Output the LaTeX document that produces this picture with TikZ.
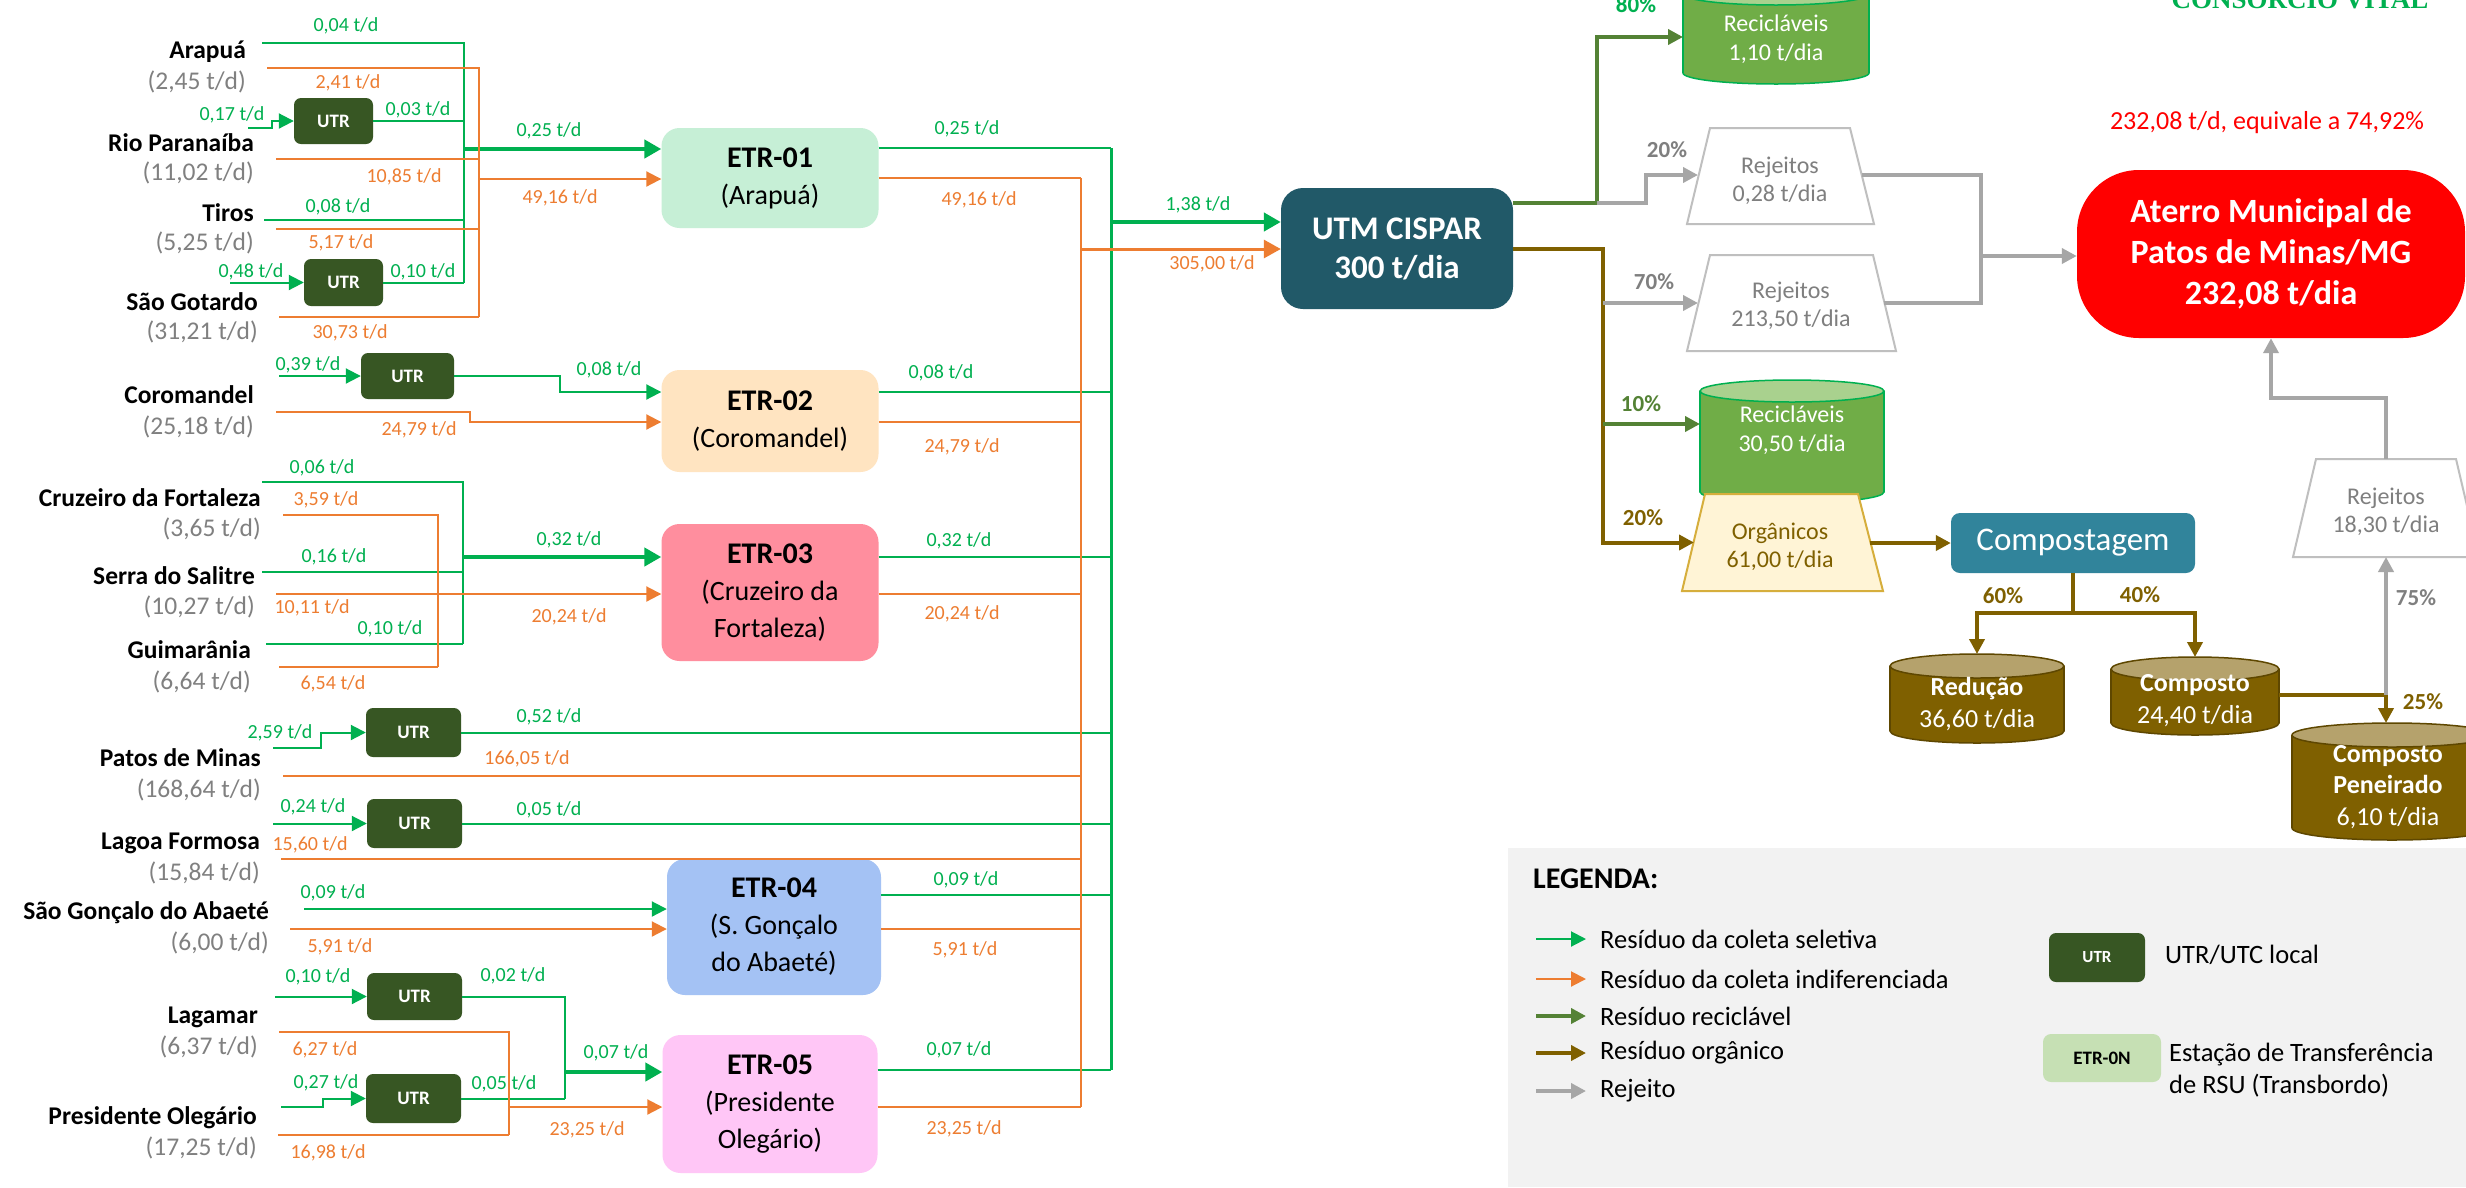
\documentclass[tikz,border=0pt]{standalone}
\usepackage{fontspec}
\setmainfont{Carlito}
\newfontfamily\serifbold{Liberation Serif}
\usetikzlibrary{arrows.meta,calc}
\definecolor{selg}{HTML}{00B050}
\definecolor{indo}{HTML}{ED7D31}
\definecolor{recg}{HTML}{548235}
\definecolor{orgb}{HTML}{7F6000}
\definecolor{rejg}{HTML}{A6A6A6}
\definecolor{utrc}{HTML}{375623}
\definecolor{utmc}{HTML}{215968}
\definecolor{compc}{HTML}{31849B}
\definecolor{amtc}{HTML}{808080}
\definecolor{etra}{HTML}{C6EFD6}
\definecolor{etrb}{HTML}{FFE4C1}
\definecolor{etrc}{HTML}{FF8E9E}
\definecolor{etrd}{HTML}{A4C2F4}
\definecolor{etre}{HTML}{FFC6F6}
\definecolor{legbg}{HTML}{F2F2F2}
\definecolor{legetr}{HTML}{C6E0B4}
\definecolor{cylg}{HTML}{70AD47}
\definecolor{cylgt}{HTML}{A9D18E}
\definecolor{cylbt}{HTML}{B5A26C}
\definecolor{cylbd}{HTML}{5E4700}
\definecolor{orgfill}{HTML}{FFF4D6}
\definecolor{orgdraw}{HTML}{D6AE3C}
\definecolor{trapd}{HTML}{BFBFBF}
\definecolor{rejtxt}{HTML}{7F7F7F}
\newcommand{\drawcyl}[8]{%
  \filldraw[fill=#6,draw=#8,line width=1.5pt] (#1,#4) ellipse [x radius=#2pt, y radius=#5pt];
  \fill[#6] ({#1-#2},#3) rectangle ({#1+#2},#4);
  \draw[#8,line width=1.5pt] ({#1-#2},#3) -- ({#1-#2},#4) ({#1+#2},#3) -- ({#1+#2},#4);
  \filldraw[fill=#7,draw=#8,line width=1.5pt] (#1,#3) ellipse [x radius=#2pt, y radius=#5pt];}
\begin{document}
\begin{tikzpicture}[x=1pt,y=-1pt,
  tip/.style={-{Triangle[length=15pt,width=15pt]}},
  btip/.style={-{Triangle[length=17pt,width=18pt]}},
  sel/.style={draw=selg,line width=2pt},
  selk/.style={draw=selg,line width=4.5pt},
  selbus/.style={draw=selg,line width=3pt},
  ind/.style={draw=indo,line width=2pt},
  indk/.style={draw=indo,line width=3pt},
  indbus/.style={draw=indo,line width=2.5pt},
  rec/.style={draw=recg,line width=4pt},
  org/.style={draw=orgb,line width=4pt},
  rej/.style={draw=rejg,line width=4pt},
  lg/.style={text=selg,font=\fontsize{20}{24}\selectfont,inner sep=0pt},
  lo/.style={text=indo,font=\fontsize{20}{24}\selectfont,inner sep=0pt},
  city/.style={anchor=east,inner sep=0pt,font=\bfseries\fontsize{25.5}{30}\selectfont},
  amt/.style={anchor=east,inner sep=0pt,text=amtc,font=\fontsize{25.5}{30}\selectfont},
  utrbox/.style={fill=utrc,rounded corners=7pt,text=white,font=\bfseries\fontsize{19}{22}\selectfont,inner sep=0pt},
  etrbox/.style={rounded corners=18pt,align=center,inner sep=0pt,minimum width=217pt,font=\fontsize{28}{37}\selectfont},
  pct/.style={font=\bfseries\fontsize{23}{26}\selectfont,inner sep=0pt},
  leg/.style={anchor=west,inner sep=0pt,font=\fontsize{26.5}{32}\selectfont},
  trap/.style={draw=trapd,line width=2pt,fill=white},
  traptxt/.style={align=center,inner sep=0pt,text=rejtxt,font=\fontsize{24}{28}\selectfont},
  cyltxt/.style={align=center,inner sep=0pt,text=white,font=\fontsize{24}{29}\selectfont},
  bcyltxt/.style={align=center,inner sep=0pt,text=white,font=\fontsize{26}{32}\selectfont},
]
\useasboundingbox (0,0) rectangle (2466,1187);
\fill[white] (0,0) rectangle (2466,1187);

% ---------- left: municipalities ----------
\node[city] (nAr) at (246,52) {Arapuá};
\node[amt] (aAr) at (246,82) {(2,45 t/d)};
\node[city] (nRP) at (254,143) {Rio Paranaíba};
\node[amt] (aRP) at (254,173) {(11,02 t/d)};
\node[city] (nTi) at (254,213) {Tiros};
\node[amt] (aTi) at (254,243) {(5,25 t/d)};
\node[city] (nSG) at (258,302) {São Gotardo};
\node[amt] (aSG) at (258,332) {(31,21 t/d)};
\node[city] (nCo) at (254,395) {Coromandel};
\node[amt] (aCo) at (254,427) {(25,18 t/d)};
\node[city] (nCF) at (261,498) {Cruzeiro da Fortaleza};
\node[amt] (aCF) at (261,529) {(3,65 t/d)};
\node[city] (nSS) at (255,576) {Serra do Salitre};
\node[amt] (aSS) at (255,607) {(10,27 t/d)};
\node[city] (nGu) at (251,650) {Guimarânia};
\node[amt] (aGu) at (251,682) {(6,64 t/d)};
\node[city] (nPM) at (261,758) {Patos de Minas};
\node[amt] (aPM) at (261,790) {(168,64 t/d)};
\node[city] (nLF) at (260,843) {Lagoa Formosa};
\node[amt] (aLF) at (260,873) {(15,84 t/d)};
\node[city] (nGA) at (269,913) {São Gonçalo do Abaeté};
\node[amt] (aGA) at (269,943) {(6,00 t/d)};
\node[city] (nLa) at (258,1017) {Lagamar};
\node[amt] (aLa) at (258,1047) {(6,37 t/d)};
\node[city] (nPO) at (257,1118) {Presidente Olegário};
\node[amt] (aPO) at (257,1148) {(17,25 t/d)};

% ---------- UTR boxes ----------
\node[utrbox,minimum width=79pt,minimum height=46pt] (u1) at (333.5,121) {UTR};
\node[utrbox,minimum width=79pt,minimum height=47pt] (u2) at (343.5,282.5) {UTR};
\node[utrbox,minimum width=93pt,minimum height=46pt] (u3) at (407.5,376) {UTR};
\node[utrbox,minimum width=95pt,minimum height=49pt] (u4) at (413.5,732.5) {UTR};
\node[utrbox,minimum width=95pt,minimum height=49pt] (u5) at (414.5,823.5) {UTR};
\node[utrbox,minimum width=95pt,minimum height=47pt] (u6) at (414.5,996.5) {UTR};
\node[utrbox,minimum width=95pt,minimum height=49pt] (u7) at (413.5,1098.5) {UTR};

% ---------- ETR boxes ----------
\node[etrbox,fill=etra,minimum height=100pt] (e1) at (770,178) {{\bfseries\fontsize{30}{37}\selectfont ETR-01}\\(Arapuá)};
\node[etrbox,fill=etrb,minimum height=102pt] (e2) at (770,421) {{\bfseries\fontsize{30}{37}\selectfont ETR-02}\\(Coromandel)};
\node[etrbox,fill=etrc,minimum height=137pt] (e3) at (770,592.5) {{\bfseries\fontsize{30}{36}\selectfont ETR-03}\\(Cruzeiro da\\Fortaleza)};
\node[etrbox,fill=etrd,minimum height=136pt,minimum width=214pt] (e4) at (774,927) {{\bfseries\fontsize{30}{35}\selectfont ETR-04}\\(S. Gonçalo\\do Abaeté)};
\node[etrbox,fill=etre,minimum height=138pt,minimum width=215pt] (e5) at (770,1104) {{\bfseries\fontsize{30}{36}\selectfont ETR-05}\\(Presidente\\Olegário)};

% ---------- UTM ----------
\node[fill=utmc,rounded corners=22pt,minimum width=232pt,minimum height=121pt,inner sep=0pt,align=center,text=white,font=\bfseries\fontsize{33}{39}\selectfont] (utm) at (1397,248.5) {UTM CISPAR\\300 t/dia};

% ---------- group 1 (ETR-01) ----------
\coordinate (arG) at (262,43);
\coordinate (gb1) at (464,283);
\coordinate (gj1) at (464,149);
\coordinate (tiG) at (264,220);
\coordinate (rpG) at (248,128);
\coordinate (sgG) at (230,282.5);
\draw[sel] (arG) -| (gb1);
\draw[sel] (u1.east) -- (u1.east -| gb1);
\draw[sel] (tiG) -- (tiG -| gb1);
\draw[sel] (u2.east) -- (u2.east -| gb1);
\draw[sel,tip] (rpG) -- ++(24,0) |- (u1.west);
\draw[sel,tip] (sgG) -- (u2.west);
\draw[selk,btip] (gj1) -- (gj1 -| e1.west);
\coordinate (arO) at (267,68);
\coordinate (ob1) at (479,317);
\coordinate (oj1) at (479,179);
\coordinate (rpO) at (276,159);
\coordinate (tiO) at (276,229);
\coordinate (sgO) at (279,317);
\draw[ind] (arO) -| (ob1);
\draw[ind] (rpO) -- (rpO -| ob1);
\draw[ind] (tiO) -- (tiO -| ob1);
\draw[ind] (sgO) -- (ob1);
\draw[ind,tip] (oj1) -- (oj1 -| e1.west);

% ---------- group 2 (ETR-02) ----------
\coordinate (coG) at (279,376);
\coordinate (coB) at (560,392);
\coordinate (coO) at (276,412);
\coordinate (coOB) at (470,422);
\draw[sel,tip] (coG) -- (u3.west);
\draw[sel,tip] (u3.east) -| (coB) -- (coB -| e2.west);
\draw[ind,tip] (coO) -| (coOB) -- (coOB -| e2.west);

% ---------- group 3 (ETR-03) ----------
\coordinate (cfG) at (262,482);
\coordinate (gb3) at (463,644);
\coordinate (gj3) at (463,557);
\coordinate (ssG) at (262,572);
\coordinate (guG) at (266,644);
\draw[sel] (cfG) -| (gb3);
\draw[sel] (ssG) -- (ssG -| gb3);
\draw[sel] (guG) -- (gb3);
\draw[selk,btip] (gj3) -- (gj3 -| e3.west);
\coordinate (cfO) at (283,515);
\coordinate (ob3) at (438,667);
\coordinate (guO) at (279,667);
\coordinate (ssO) at (276,594);
\draw[ind] (cfO) -| (ob3);
\draw[ind] (guO) -- (ob3);
\draw[ind,tip] (ssO) -- (ssO -| e3.west);

% ---------- main buses ----------
\coordinate (gm1) at (1111,148);
\coordinate (gm2) at (1111,392);
\coordinate (gm3) at (1111,557);
\coordinate (gm4) at (1111,895);
\coordinate (gm5) at (1111,1070);
\coordinate (gmA) at (1111,222);
\coordinate (om1) at (1081,178);
\coordinate (om2) at (1081,422);
\coordinate (om3) at (1081,594);
\coordinate (om4) at (1081,929);
\coordinate (om5) at (1081,1107);
\coordinate (omA) at (1081,249);

% Patos de Minas / Lagoa Formosa
\coordinate (pmG) at (273,748);
\coordinate (lfG) at (273,823.5);
\coordinate (pmO) at (283,776);
\coordinate (lfO) at (281,859);
\draw[sel,tip] (pmG) -- ++(48,0) |- (u4.west);
\draw[sel,tip] (lfG) -- (u5.west);
\draw[sel] (u4.east) -- (u4.east -| gm1);
\draw[sel] (u5.east) -- (u5.east -| gm1);
\draw[ind] (pmO) -- (pmO -| om1);
\draw[ind] (lfO) -- (lfO -| om1);

% Sao Goncalo do Abaete
\coordinate (gaG) at (304,909);
\coordinate (gaO) at (290,929);
\draw[sel,tip] (gaG) -- (gaG -| e4.west);
\draw[ind,tip] (gaO) -- (gaO -| e4.west);

% Lagamar / Presidente Olegario
\coordinate (laG) at (275,996.5);
\coordinate (gb5) at (565,1098.5);
\coordinate (gj5) at (565,1072);
\coordinate (poG) at (281,1107);
\draw[sel,tip] (laG) -- (u6.west);
\draw[sel] (u6.east) -| (gb5);
\draw[sel] (u7.east) -- (gb5);
\draw[sel,tip] (poG) -- ++(42,0) |- (u7.west);
\draw[selk,btip] (gj5) -- (gj5 -| e5.west);
\coordinate (laO) at (279,1032);
\coordinate (ob5) at (509,1135);
\coordinate (oj5) at (509,1107);
\coordinate (poO) at (278,1135);
\draw[ind] (laO) -| (ob5);
\draw[ind] (poO) -- (ob5);
\draw[ind,tip] (oj5) -- (oj5 -| e5.west);

% ETR outputs
\draw[sel] (gm1 -| e1.east) -- (gm1);
\draw[sel] (gm2 -| e2.east) -- (gm2);
\draw[sel] (gm3 -| e3.east) -- (gm3);
\draw[sel] (gm4 -| e4.east) -- (gm4);
\draw[sel] (gm5 -| e5.east) -- (gm5);
\draw[ind] (om1 -| e1.east) -- (om1);
\draw[ind] (om2 -| e2.east) -- (om2);
\draw[ind] (om3 -| e3.east) -- (om3);
\draw[ind] (om4 -| e4.east) -- (om4);
\draw[ind] (om5 -| e5.east) -- (om5);
\draw[indbus] (om1) -- (om5);
\draw[selbus] (gm1) -- (gm5);
\draw[selk,btip] (gmA) -- (gmA -| utm.west);
\draw[indk,btip] (omA) -- (omA -| utm.west);

% ---------- flow labels (left) ----------
\node[lg] (l01) at (346,26) {0,04 t/d};
\node[lo] (l02) at (348,83) {2,41 t/d};
\node[lg] (l03) at (232,115) {0,17 t/d};
\node[lg] (l04) at (418,110) {0,03 t/d};
\node[lo] (l05) at (404,177) {10,85 t/d};
\node[lg] (l06) at (549,131) {0,25 t/d};
\node[lo] (l07) at (560,198) {49,16 t/d};
\node[lg] (l08) at (338,207) {0,08 t/d};
\node[lo] (l09) at (341,243) {5,17 t/d};
\node[lg] (l10) at (251,272) {0,48 t/d};
\node[lg] (l11) at (423,272) {0,10 t/d};
\node[lo] (l12) at (350,333) {30,73 t/d};
\node[lg] (l13) at (308,365) {0,39 t/d};
\node[lg] (l14) at (609,370) {0,08 t/d};
\node[lo] (l15) at (419,430) {24,79 t/d};
\node[lg] (l16) at (322,468) {0,06 t/d};
\node[lo] (l17) at (326,500) {3,59 t/d};
\node[lg] (l18) at (334,557) {0,16 t/d};
\node[lg] (l19) at (569,540) {0,32 t/d};
\node[lo] (l20) at (312,608) {10,11 t/d};
\node[lo] (l21) at (569,617) {20,24 t/d};
\node[lg] (l22) at (390,629) {0,10 t/d};
\node[lo] (l23) at (333,684) {6,54 t/d};
\node[lg] (l24) at (280,733) {2,59 t/d};
\node[lg] (l25) at (549,717) {0,52 t/d};
\node[lo] (l26) at (527,759) {166,05 t/d};
\node[lg] (l27) at (313,807) {0,24 t/d};
\node[lg] (l28) at (549,810) {0,05 t/d};
\node[lo] (l29) at (310,845) {15,60 t/d};
\node[lg] (l30) at (333,893) {0,09 t/d};
\node[lo] (l31) at (340,947) {5,91 t/d};
\node[lg] (l32) at (318,977) {0,10 t/d};
\node[lg] (l33) at (513,976) {0,02 t/d};
\node[lo] (l34) at (325,1050) {6,27 t/d};
\node[lg] (l35) at (616,1053) {0,07 t/d};
\node[lg] (l36) at (326,1083) {0,27 t/d};
\node[lg] (l37) at (504,1084) {0,05 t/d};
\node[lo] (l38) at (587,1130) {23,25 t/d};
\node[lo] (l39) at (328,1153) {16,98 t/d};
% right of ETRs
\node[lg] (r01) at (967,129) {0,25 t/d};
\node[lo] (r02) at (979,200) {49,16 t/d};
\node[lg] (r03) at (941,373) {0,08 t/d};
\node[lo] (r04) at (962,447) {24,79 t/d};
\node[lg] (r05) at (959,541) {0,32 t/d};
\node[lo] (r06) at (962,614) {20,24 t/d};
\node[lg] (r07) at (966,880) {0,09 t/d};
\node[lo] (r08) at (965,950) {5,91 t/d};
\node[lg] (r09) at (959,1050) {0,07 t/d};
\node[lo] (r10) at (964,1129) {23,25 t/d};
\node[lg] (r11) at (1198,205) {1,38 t/d};
\node[lo] (r12) at (1212,264) {305,00 t/d};

% ---------- right side ----------
\node[anchor=base,inner sep=0pt,text=selg,font=\serifbold\bfseries\fontsize{27}{30}\selectfont] (cv) at (2300,8) {CONSÓRCIO VITAL};
\node[inner sep=0pt,text=red,font=\fontsize{26}{30}\selectfont] (note) at (2267,123) {232,08 t/d, equivale a 74,92\%};
\node[fill=red,rounded corners=62pt,minimum width=388pt,minimum height=168pt,inner sep=0pt,align=center,text=white,font=\bfseries\fontsize{34}{41}\selectfont] (att) at (2271,254) {Aterro Municipal de\\Patos de Minas/MG\\232,08 t/dia};

% cylinders
\drawcyl{1776}{93}{-6}{73}{11}{cylg}{cylgt}{selg}
\node[cyltxt] (cy1) at (1776,39) {Recicláveis\\1,10 t/dia};
\drawcyl{1792}{92}{391}{492}{11}{cylg}{cylgt}{selg}
\node[cyltxt] (cy2) at (1792,430) {Recicláveis\\30,50 t/dia};
\drawcyl{1977}{87}{666}{731}{12}{orgb}{cylbt}{cylbd}
\node[bcyltxt] (cy3) at (1977,704) {\textbf{Redução}\\36,60 t/dia};
\drawcyl{2195}{84}{669}{723}{12}{orgb}{cylbt}{cylbd}
\node[bcyltxt] (cy4) at (2195,701) {\textbf{Composto}\\24,40 t/dia};
\drawcyl{2392}{100}{735}{828}{12}{orgb}{cylbt}{cylbd}
\node[bcyltxt,font=\fontsize{26}{31.5}\selectfont] (cy5) at (2388,787) {\textbf{Composto}\\\textbf{Peneirado}\\6,10 t/dia};

% trapezoids
\draw[trap] (1687,224) -- (1710,128) -- (1850,128) -- (1874,224) -- cycle;
\node[traptxt] (tr1) at (1780,180.5) {Rejeitos\\0,28 t/dia};
\draw[trap] (1687,351) -- (1710,255) -- (1873,255) -- (1896,351) -- cycle;
\node[traptxt] (tr2) at (1791,306) {Rejeitos\\213,50 t/dia};
\draw[draw=orgdraw,line width=2pt,fill=orgfill] (1682,591) -- (1705,494) -- (1858,494) -- (1883,591) -- cycle;
\node[traptxt,text=orgb] (tr3) at (1780,546.5) {Orgânicos\\61,00 t/dia};
\draw[trap] (2293,557) -- (2316,459) -- (2456,459) -- (2479,557) -- cycle;
\node[traptxt] (tr4) at (2386,511.5) {Rejeitos\\18,30 t/dia};

% compostagem
\node[fill=compc,rounded corners=9pt,minimum width=244pt,minimum height=60pt,inner sep=0pt,text=white,font=\fontsize{33}{38}\selectfont] (comp) at (2073,543) {Compostagem};

% connectors right
\coordinate (rgT) at (1597,203);
\coordinate (cy1w) at (1683,37);
\coordinate (rgG) at (1646,203);
\coordinate (tr1w) at (1698,175);
\coordinate (obT) at (1603,249);
\coordinate (orgw) at (1694,542.5);
\coordinate (ob70) at (1603,303);
\coordinate (tr2w) at (1698,303);
\coordinate (ob10) at (1603,424);
\coordinate (cy2w) at (1700,424);
\coordinate (tr1e) at (1862,175);
\coordinate (tr2e) at (1884,303);
\coordinate (gbb) at (1981,303);
\coordinate (gbm) at (1981,256);
\coordinate (orge) at (1870,543);
\coordinate (spl) at (2073,613);
\coordinate (redT) at (1977,654);
\coordinate (cmpT) at (2195,657);
\coordinate (cmpE) at (2279,695);
\coordinate (cpT) at (2386,723);
\coordinate (cpS) at (2386,695);
\coordinate (tr4s) at (2386,557);
\coordinate (tr4n) at (2386,459);
\coordinate (gAtt) at (2271,398);

\draw[rec,tip] (utm.east |- rgT) -- (rgT) |- (cy1w);
\draw[rej,tip] (rgT) -- (rgG) |- (tr1w);
\draw[org,tip] (utm.east |- obT) -- (obT) |- (orgw);
\draw[rej,tip] (ob70) -- (tr2w);
\draw[rec,tip] (ob10) -- (cy2w);
\draw[rej] (tr1e) -| (gbb) -- (tr2e);
\draw[rej,tip] (gbm) -- (gbm -| att.west);
\draw[org,tip] (orge) -- (comp.west);
\draw[org] (comp.south) -- (spl);
\draw[org,tip] (spl) -| (redT);
\draw[org,tip] (spl) -| (cmpT);
\draw[org,tip] (cmpE) -| (cpT);
\draw[rej,tip] (cpS) -- (tr4s);
\draw[rej,tip] (tr4n) |- (gAtt) -- (att.south);

% percentages
\node[pct,text=selg] (p80) at (1636,5) {80\%};
\node[pct,text=rejtxt] (p20a) at (1667,150) {20\%};
\node[pct,text=rejtxt] (p70) at (1654,282) {70\%};
\node[pct,text=recg] (p10) at (1641,404) {10\%};
\node[pct,text=orgb] (p20b) at (1643,518) {20\%};
\node[pct,text=orgb] (p60) at (2003,596) {60\%};
\node[pct,text=orgb] (p40) at (2140,595) {40\%};
\node[pct,text=rejtxt] (p75) at (2416,598) {75\%};
\node[pct,text=orgb] (p25) at (2423,702) {25\%};

% ---------- legend ----------
\fill[legbg] (1508,848) rectangle (2466,1187);
\node[anchor=west,inner sep=0pt,font=\bfseries\fontsize{30}{34}\selectfont] (legT) at (1533,879) {LEGENDA:};
\coordinate (la1) at (1536,939); \coordinate (lb1) at (1586,939);
\coordinate (la2) at (1536,979); \coordinate (lb2) at (1586,979);
\coordinate (la3) at (1536,1016); \coordinate (lb3) at (1586,1016);
\coordinate (la4) at (1536,1053); \coordinate (lb4) at (1586,1053);
\coordinate (la5) at (1536,1091); \coordinate (lb5) at (1586,1091);
\draw[sel,tip] (la1) -- (lb1);
\draw[ind,tip] (la2) -- (lb2);
\draw[rec,tip] (la3) -- (lb3);
\draw[org,tip] (la4) -- (lb4);
\draw[rej,tip] (la5) -- (lb5);
\node[leg] (lt1) at (1600,939) {Resíduo da coleta seletiva};
\node[leg] (lt2) at (1600,979) {Resíduo da coleta indiferenciada};
\node[leg] (lt3) at (1600,1016) {Resíduo reciclável};
\node[leg] (lt4) at (1600,1053) {Resíduo orgânico};
\node[leg] (lt5) at (1600,1091) {Rejeito};
\node[utrbox,minimum width=96pt,minimum height=49pt,font=\bfseries\fontsize{17}{20}\selectfont] (lu) at (2097,957.5) {UTR};
\node[leg] (lut) at (2165,955) {UTR/UTC local};
\node[fill=legetr,rounded corners=8pt,minimum width=118pt,minimum height=48pt,inner sep=0pt,font=\bfseries\fontsize{19}{22}\selectfont] (le) at (2102,1058) {ETR-0N};
\node[leg,align=left,anchor=north west,font=\fontsize{26.5}{32}\selectfont] (let) at (2169,1043) {Estação de Transferência\\de RSU (Transbordo)};
\end{tikzpicture}
\end{document}
